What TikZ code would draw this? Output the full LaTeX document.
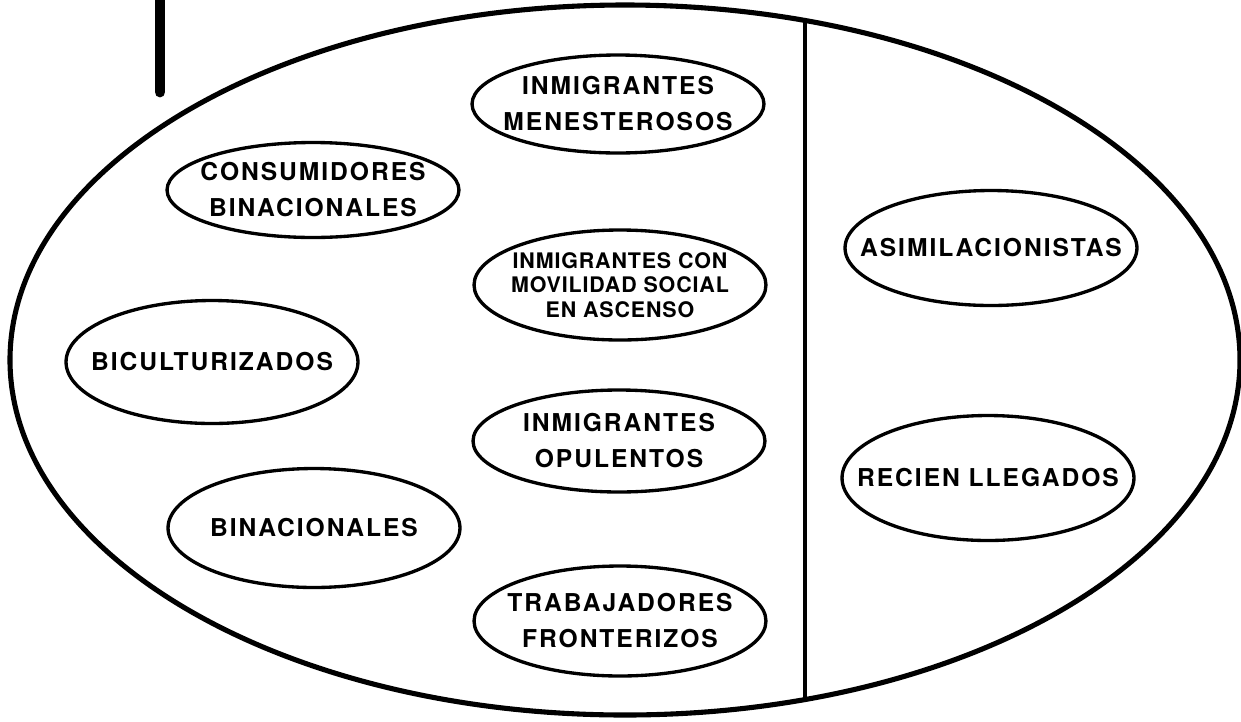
\documentclass[tikz,border=0pt]{standalone}
\usepackage{fontspec}
\newfontfamily\heros{TeX Gyre Heros}[LetterSpace=8]
\newfontfamily\herostight{TeX Gyre Heros}[LetterSpace=4]
\usetikzlibrary{shapes.geometric}
\tikzset{
	oval_style/.style = {shape=ellipse, draw=black, line width=1.9pt, inner sep=0pt, minimum width=5.84cm},
	tag_style/.style = {align=center, font=\heros\bfseries\fontsize{14}{20.5}\selectfont},
	small_tag_style/.style = {align=center, font=\herostight\bfseries\fontsize{12.2}{13.8}\selectfont}
}

\begin{document}
\begin{tikzpicture}[x=0.02cm, y=-0.02cm,
	rim_style/.style={draw=black, line width=2.9pt},
	divider_style/.style={draw=black, line width=2.8pt},
	bar_style/.style={draw=black, line width=6.2pt, line cap=round}
	]
	\useasboundingbox (0,0) rectangle (1241,721);
	% the outer oval, the divider and the bar
	\draw[rim_style] (625,360) ellipse [x radius=615, y radius=355];
	\coordinate (divider_top) at (805,21);
	\coordinate (divider_bottom) at (805,699);
	\draw[divider_style] (divider_top) -- (divider_bottom);
	\coordinate (bar_top) at (160,-10);
	\coordinate (bar_bottom) at (160,92);
	\draw[bar_style] (bar_top) -- (bar_bottom);

	% all the ovals
	\node[oval_style, minimum height=1.96cm, label={[tag_style]center:INMIGRANTES\\MENESTEROSOS}] (menesterosos) at (618,104) {};
	\node[oval_style, minimum height=1.9cm, label={[tag_style]center:CONSUMIDORES\\BINACIONALES}] (consumidores) at (313,190) {};
	\node[oval_style, minimum height=2.2cm, label={[small_tag_style]center:INMIGRANTES CON\\MOVILIDAD SOCIAL\\EN ASCENSO}] (movilidad) at (620,285) {};
	\node[oval_style, minimum height=2.46cm, label={[tag_style]center:BICULTURIZADOS}] (biculturizados) at (212,362) {};
	\node[oval_style, minimum height=2.04cm, label={[tag_style]center:INMIGRANTES\\OPULENTOS}] (opulentos) at (619,441) {};
	\node[oval_style, minimum height=2.38cm, label={[tag_style]center:BINACIONALES}] (binacionales) at (314,528) {};
	\node[oval_style, minimum height=2.2cm, label={[tag_style]center:TRABAJADORES\\FRONTERIZOS}] (fronterizos) at (620,621) {};
	\node[oval_style, minimum height=2.3cm, label={[tag_style]center:ASIMILACIONISTAS}] (asimilacionistas) at (991,248) {};
	\node[oval_style, minimum height=2.5cm, label={[tag_style]center:RECIEN LLEGADOS}] (recien) at (988,478) {};
\end{tikzpicture}
\end{document}
